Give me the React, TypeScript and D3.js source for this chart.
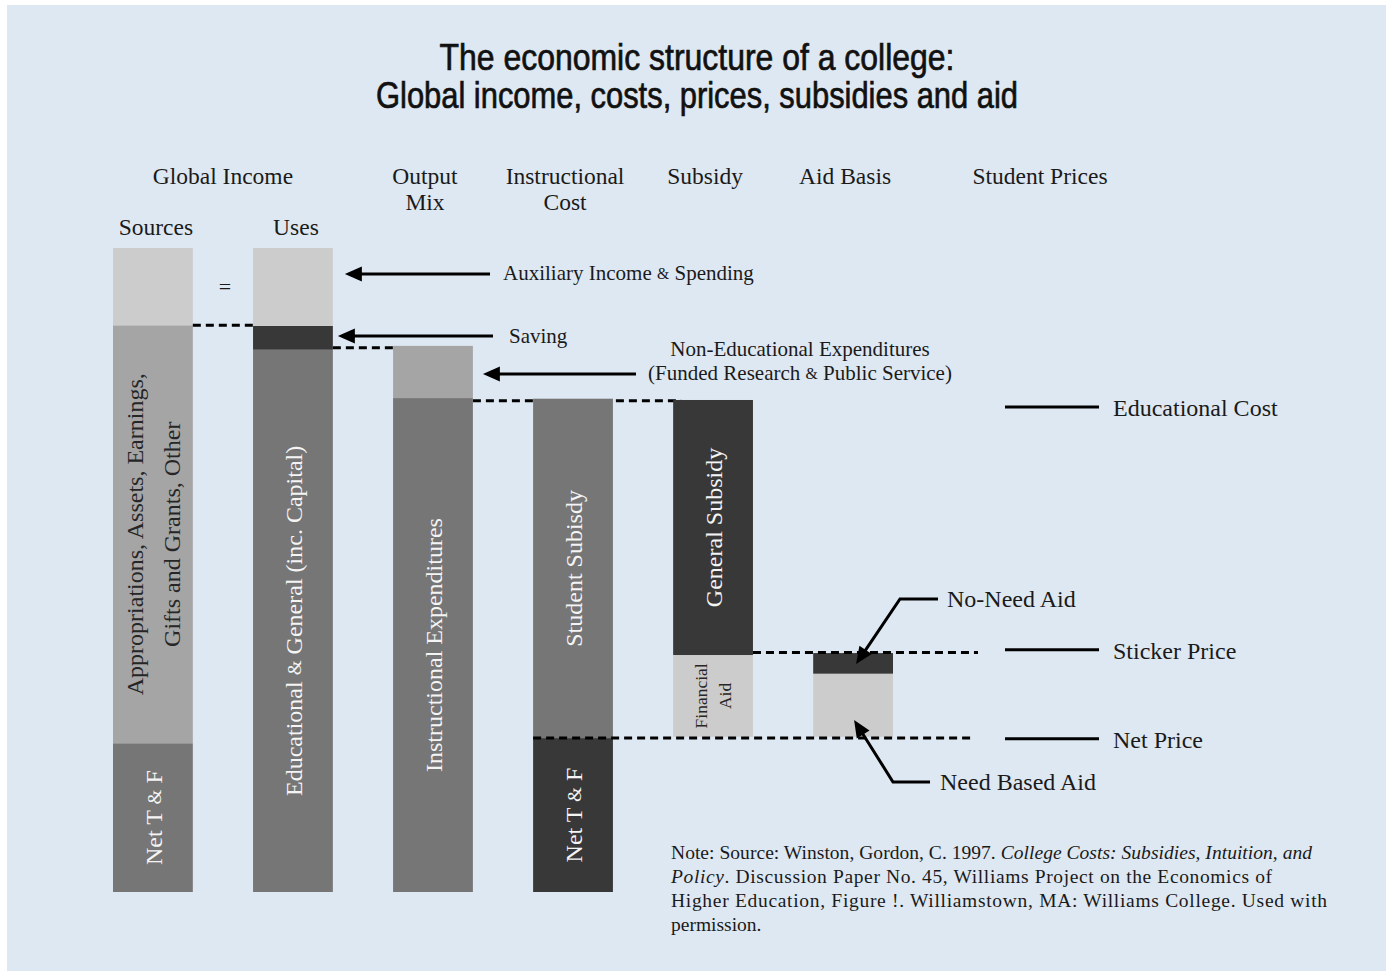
import React from 'react';
import * as d3 from 'd3';

// columns of the diagram, left to right
const columns = ['sources', 'uses', 'output', 'instructional', 'subsidy', 'aid'];

// stacked segments per column: break points (bottom -> top) and shade of each piece
const sourceBreaks = [0, 23.1, 88.0, 100];
const sourceShades = ['grey', 'mid', 'light'];
const useBreaks = [0, 84.2, 87.9, 100];
const useShades = ['grey', 'dark', 'light'];
const outputBreaks = [0, 76.7, 84.8];
const outputShades = ['grey', 'mid'];
const instrBreaks = [0, 23.9, 76.6];
const instrShades = ['dark', 'grey'];
const subsidyBreaks = [24.1, 36.8, 76.4];
const subsidyShades = ['light', 'dark'];
const aidBreaks = [24.1, 33.9, 37.1];
const aidShades = ['light', 'dark'];

// labels inside the segments (same order as shades)
const sourceLabels = [['Net T & F'], ['Appropriations, Assets, Earnings,', 'Gifts and Grants, Other'], []];
const useLabels = [['Educational & General (inc. Capital)'], [], []];
const outputLabels = [['Instructional Expenditures'], []];
const instrLabels = [['Net T & F'], ['Student Subisdy']];
const subsidyLabels = [['Financial', 'Aid'], ['General Subsidy']];
const aidLabels = [[], []];

const headers = [['Output', 'Mix'], ['Instructional', 'Cost'], ['Subsidy'], ['Aid Basis']];

// levels
const levelSaving = 88.0;
const levelEG = 84.5;
const levelEduCost = 76.3;
const levelSticker = 37.2;
const levelNet = 23.9;
const legendItems = ['Educational Cost', 'Sticker Price', 'Net Price'];
const legendLevels = [75.3, 37.6, 23.8];

const shadeColor: Record<string, string> = {
  light: '#cccccc',
  mid: '#a5a5a5',
  grey: '#767676',
  dark: '#383838',
};

const W = 1389;
const H = 973;
const SERIF = '"Liberation Serif", "DejaVu Serif", serif';

const App = () => {
  const svgRef = React.useRef<SVGSVGElement>(null);

  React.useEffect(() => {
    const svg = d3.select(svgRef.current);
    svg.selectAll('*').remove();

    svg.append('rect').attr('width', W).attr('height', H).attr('fill', '#ffffff');
    svg.append('rect')
      .attr('x', 7).attr('y', 5)
      .attr('width', 1379).attr('height', 966)
      .attr('fill', '#dee8f2');

    const x = d3.scaleBand()
      .domain(columns)
      .range([113, 893])
      .paddingInner(0.43)
      .paddingOuter(0);
    const y = d3.scaleLinear().domain([0, 100]).range([892, 248]);
    const bw = x.bandwidth();
    const cx = (c: string) => (x(c) as number) + bw / 2;
    const left = (c: string) => x(c) as number;
    const right = (c: string) => (x(c) as number) + bw;

    // title
    const titleLines = ['The economic structure of a college:', 'Global income, costs, prices, subsidies and aid'];
    const titleWidths = [515, 642];
    titleLines.forEach((s, i) => {
      svg.append('text')
        .attr('x', 697).attr('y', 70 + i * 38)
        .attr('text-anchor', 'middle')
        .attr('textLength', titleWidths[i])
        .attr('lengthAdjust', 'spacingAndGlyphs')
        .style('font-family', '"Liberation Sans Narrow", "Liberation Sans", sans-serif')
        .style('font-size', '37px')
        .attr('fill', '#111')
        .attr('stroke', '#111')
        .attr('stroke-width', 0.7)
        .text(s);
    });

    const txt = (g: any) => g.style('font-family', SERIF).attr('fill', '#1a1a1a');

    // column headers
    svg.append('text').call(txt)
      .attr('x', (cx('sources') + cx('uses')) / 2).attr('y', 184)
      .attr('text-anchor', 'middle').style('font-size', '23.5px')
      .text('Global Income');
    ['sources', 'uses'].forEach((c, i) => {
      svg.append('text').call(txt)
        .attr('x', cx(c) + 3).attr('y', 235)
        .attr('text-anchor', 'middle').style('font-size', '23.5px')
        .text(i === 0 ? 'Sources' : 'Uses');
    });
    headers.forEach((lines, i) => {
      const c = columns[i + 2];
      lines.forEach((l, j) => {
        svg.append('text').call(txt)
          .attr('x', cx(c) - 8).attr('y', 184 + j * 26)
          .attr('text-anchor', 'middle').style('font-size', '23.5px')
          .text(l);
      });
    });
    svg.append('text').call(txt)
      .attr('x', 1040).attr('y', 184)
      .attr('text-anchor', 'middle').style('font-size', '23.5px')
      .text('Student Prices');

    svg.append('text').call(txt)
      .attr('x', (right('sources') + left('uses')) / 2 + 2).attr('y', 286)
      .attr('text-anchor', 'middle').attr('dominant-baseline', 'central')
      .style('font-size', '22px')
      .text('=');

    // dotted guide drawn below bars
    const dotted = (x1: number, x2: number, yy: number) =>
      svg.append('line')
        .attr('x1', x1).attr('x2', x2)
        .attr('y1', yy).attr('y2', yy)
        .attr('stroke', '#000')
        .attr('stroke-width', 3)
        .attr('stroke-dasharray', '8,5');

    dotted(right('output'), left('subsidy') + 8, y(levelEduCost));

    // bars
    const stacks = [
      { col: 'sources', breaks: sourceBreaks, shades: sourceShades, labels: sourceLabels },
      { col: 'uses', breaks: useBreaks, shades: useShades, labels: useLabels },
      { col: 'output', breaks: outputBreaks, shades: outputShades, labels: outputLabels },
      { col: 'instructional', breaks: instrBreaks, shades: instrShades, labels: instrLabels },
      { col: 'subsidy', breaks: subsidyBreaks, shades: subsidyShades, labels: subsidyLabels },
      { col: 'aid', breaks: aidBreaks, shades: aidShades, labels: aidLabels },
    ];
    const segs = stacks.flatMap(s => s.shades.map((shade, i) => ({
      col: s.col, y0: s.breaks[i], y1: s.breaks[i + 1], shade, label: s.labels[i],
    })));

    svg.selectAll('.seg')
      .data(segs)
      .join('rect')
      .attr('class', 'seg')
      .attr('x', d => left(d.col))
      .attr('y', d => y(d.y1))
      .attr('width', bw)
      .attr('height', d => y(d.y0) - y(d.y1))
      .attr('fill', d => shadeColor[d.shade]);

    segs.filter(d => d.label.length).forEach(d => {
      const small = d.label[0] === 'Financial';
      const fs = small ? 17.5 : 24;
      const gap = small ? 24 : 37;
      const mx = cx(d.col) + (small ? 0 : 1);
      const my = (y(d.y0) + y(d.y1)) / 2;
      const n = d.label.length;
      d.label.forEach((l, j) => {
        const off = (j - (n - 1) / 2) * gap;
        const t = svg.append('text')
          .attr('transform', `translate(${mx + off},${my}) rotate(-90)`)
          .attr('text-anchor', 'middle')
          .attr('dominant-baseline', 'central')
          .style('font-family', SERIF)
          .style('font-size', `${fs}px`)
          .attr('fill', d.shade === 'light' || d.shade === 'mid' ? '#262626' : '#f4f4f4');
        const parts = l.split('&');
        parts.forEach((p, k) => {
          t.append('tspan').text(p);
          if (k < parts.length - 1) t.append('tspan').style('font-size', `${fs * 0.8}px`).text('&');
        });
      });
    });

    // dotted guides over bars
    dotted(right('sources'), left('uses'), y(levelSaving));
    dotted(right('uses'), left('output'), y(levelEG));
    dotted(right('subsidy'), 978, y(levelSticker));
    dotted(left('instructional'), 975, y(levelNet));

    // arrows
    const arrow = (pts: [number, number][]) => {
      const n = pts.length;
      const [tx, ty] = pts[n - 1];
      const [px, py] = pts[n - 2];
      const len = Math.hypot(tx - px, ty - py);
      const ux = (tx - px) / len;
      const uy = (ty - py) / len;
      const head = 17;
      const half = 7.5;
      const body = pts.slice(0, n - 1).concat([[tx - ux * (head - 2), ty - uy * (head - 2)]]);
      svg.append('path')
        .attr('d', d3.line()(body as [number, number][]))
        .attr('fill', 'none')
        .attr('stroke', '#000')
        .attr('stroke-width', 3);
      const bx = tx - ux * head;
      const by = ty - uy * head;
      svg.append('path')
        .attr('d', `M${tx},${ty}L${bx - uy * half},${by + ux * half}L${bx + uy * half},${by - ux * half}Z`)
        .attr('fill', '#000');
    };

    arrow([[490, 274], [right('uses') + 12, 274]]);
    arrow([[493, 336], [right('uses') + 5, 336]]);
    arrow([[636, 374], [right('output') + 10, 374]]);
    arrow([[938, 599], [900, 599], [cx('aid') + 3, 664]]);
    arrow([[930, 782], [893, 782], [cx('aid') + 1, 720]]);

    const label = (tx: number, ty: number, s: string, fs: number, anchor = 'start') => {
      const t = svg.append('text').call(txt)
        .attr('x', tx).attr('y', ty)
        .attr('text-anchor', anchor)
        .attr('dominant-baseline', 'central')
        .style('font-size', `${fs}px`);
      const parts = s.split('&');
      parts.forEach((p, k) => {
        t.append('tspan').text(p);
        if (k < parts.length - 1) t.append('tspan').style('font-size', `${fs * 0.75}px`).text('&');
      });
    };

    label(503, 273, 'Auxiliary Income & Spending', 21);
    label(509, 336, 'Saving', 21);
    label(800, 349, 'Non-Educational Expenditures', 21, 'middle');
    label(800, 373, '(Funded Research & Public Service)', 21, 'middle');
    label(947, 599, 'No-Need Aid', 24);
    label(940, 782, 'Need Based Aid', 24);

    // legend on the right
    legendItems.forEach((s, i) => {
      const yy = y(legendLevels[i]);
      svg.append('line')
        .attr('x1', 1005).attr('x2', 1099)
        .attr('y1', yy).attr('y2', yy)
        .attr('stroke', '#000').attr('stroke-width', 3);
      label(1113, yy + 1, s, 24);
    });

    // note
    const noteLines: [string, boolean][][] = [
      [['Note: Source: Winston, Gordon, C. 1997. ', false], ['College Costs: Subsidies, Intuition, and', true]],
      [['Policy', true], ['. Discussion Paper No. 45, Williams Project on the Economics of', false]],
      [['Higher Education, Figure !. Williamstown, MA: Williams College. Used with', false]],
      [['permission.', false]],
    ];
    const noteWidths = [641, 601, 656, 0];
    noteLines.forEach((parts, i) => {
      const t = svg.append('text').call(txt)
        .attr('x', 671).attr('y', 859 + i * 24)
        .style('font-size', '19.5px');
      if (noteWidths[i]) t.attr('textLength', noteWidths[i]).attr('lengthAdjust', 'spacing');
      parts.forEach(([s, it]) => {
        t.append('tspan').style('font-style', it ? 'italic' : 'normal').text(s);
      });
    });
  }, []);

  return (
    <svg
      ref={svgRef}
      width={W}
      height={H}
      style={{ position: 'absolute', left: 0, top: 0, display: 'block' }}
    />
  );
};

export default App;
